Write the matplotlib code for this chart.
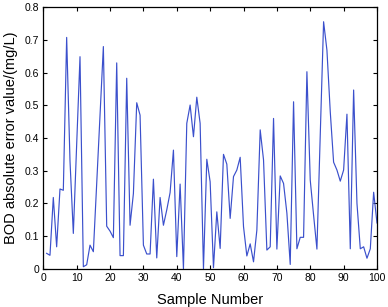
import numpy as np
import matplotlib
matplotlib.use('Agg')
from matplotlib import pyplot as plt

plt.rcParams['font.family'] = ['Liberation Sans', 'DejaVu Sans']

# sample index 1..100 and absolute error
SAMPLES = list(range(1, 101))
ERRORS = [
    0.047, 0.041, 0.218, 0.067, 0.244, 0.240, 0.708, 0.330, 0.108, 0.380,
    0.649, 0.006, 0.012, 0.072, 0.052, 0.260, 0.470, 0.680, 0.130, 0.115,
    0.095, 0.630, 0.040, 0.040, 0.583, 0.133, 0.230, 0.508, 0.470, 0.072,
    0.045, 0.045, 0.274, 0.033, 0.218, 0.133, 0.180, 0.233, 0.363, 0.037,
    0.259, 0.000, 0.445, 0.501, 0.404, 0.525, 0.445, 0.000, 0.335, 0.266,
    0.003, 0.174, 0.062, 0.350, 0.320, 0.154, 0.282, 0.302, 0.341, 0.129,
    0.039, 0.076, 0.021, 0.118, 0.425, 0.333, 0.057, 0.067, 0.460, 0.060,
    0.284, 0.261, 0.170, 0.013, 0.511, 0.061, 0.096, 0.096, 0.603, 0.271,
    0.164, 0.060, 0.410, 0.756, 0.669, 0.480, 0.326, 0.302, 0.268, 0.302,
    0.473, 0.061, 0.547, 0.200, 0.061, 0.067, 0.032, 0.061, 0.234, 0.140,
]
X_TICKS = list(range(0, 101, 10))
Y_TICKS = [0, 0.1, 0.2, 0.3, 0.4, 0.5, 0.6, 0.7, 0.8]
Y_TICK_LABELS = ['0', '0.1', '0.2', '0.3', '0.4', '0.5', '0.6', '0.7', '0.8']

fig = plt.figure(figsize=(3.88, 3.07), dpi=100)
ax = fig.add_axes([0.1116, 0.1248, 0.86, 0.8512])

ax.plot(SAMPLES, ERRORS, color='#3b50cc', linewidth=0.85)

ax.set_xlim(0, 100)
ax.set_ylim(0, 0.8)
ax.set_xticks(X_TICKS)
ax.set_yticks(Y_TICKS)
ax.set_yticklabels(Y_TICK_LABELS)
ax.tick_params(direction='in', length=3, width=0.8, labelsize=7.5,
               top=True, right=True, pad=3)
for s in ax.spines.values():
    s.set_linewidth(0.9)

ax.set_xlabel('Sample Number', fontsize=10.5, labelpad=7)
ax.set_ylabel('BOD absolute error value/(mg/L)', fontsize=10.5, labelpad=5)

fig.savefig('out.png', dpi=100)
